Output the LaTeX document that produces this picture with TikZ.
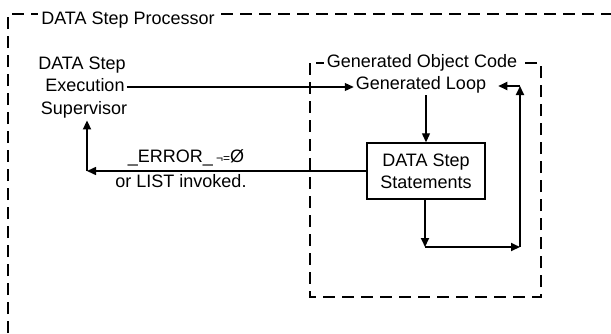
\documentclass[tikz,border=0pt]{standalone}
\usepackage{fontspec}
\setmainfont{Liberation Sans}
\usetikzlibrary{arrows.meta}
\begin{document}
\begin{tikzpicture}[x=1pt,y=-1pt,
  txt/.style={font=\fontsize{18}{22}\selectfont, inner sep=2pt, text height=13pt, text depth=3.5pt},
  frame/.style={line width=2pt, dash pattern=on 12pt off 7pt},
  lbl/.style={txt, fill=white, inner xsep=3pt},
  thinline/.style={line width=1.2pt},
  thickline/.style={line width=2pt},
  tip/.style={-{Triangle[length=9pt,width=8pt]}},
  stepbox/.style={draw, line width=1.4pt, font=\fontsize{18}{22}\selectfont, align=center,
    minimum width=118pt, minimum height=56pt, inner sep=2pt}]
\useasboundingbox (0,0) rectangle (611,333);
% outer frame
\draw[frame] (8,333) -- (8,14) -- (611,14);
\node[lbl] (ttl) at (128,20) {DATA Step Processor};
% inner frame
\draw[frame] (310,63) rectangle (541,297);
\node[lbl] (gtl) at (422,63) {Generated Object Code};
% supervisor
\node[txt] (sup1) at (82,65) {DATA Step};
\node[txt] (exec) at (85,87) {Execution};
\node[txt] (sup3) at (84,110) {Supervisor};
% loop
\node[txt] (loop) at (421,85) {Generated Loop};
% box
\node[stepbox] (box) at (426,171) {DATA Step\\Statements};
% error labels
\node[txt] (err) at (186,158) {\_ERROR\_\,{\fontsize{12}{12}\selectfont ¬=}Ø};
\node[txt] (lst) at (181,183) {or LIST invoked.};
% coordinates
\coordinate (L) at (87,171);
\coordinate (B) at (425,247);
\coordinate (R) at (520,247);
\coordinate (T) at (520,86);
% connectors
\draw[thinline,tip] (exec.east) -- (exec.east -| loop.west);
\draw[thinline,tip] (box.north |- loop.south) -- (box.north);
\draw[line width=1.5pt,tip] (box.west) -- (L);
\draw[thickline,tip] (L) -- (L |- sup3.south);
\draw[thickline,tip] (box.south -| B) -- (B);
\draw[thickline,tip] (B) -- (R);
\draw[thickline,tip] (R) -- (T);
\draw[thickline,tip] (T) -- ([xshift=10pt]loop.east |- T);
\end{tikzpicture}
\end{document}
